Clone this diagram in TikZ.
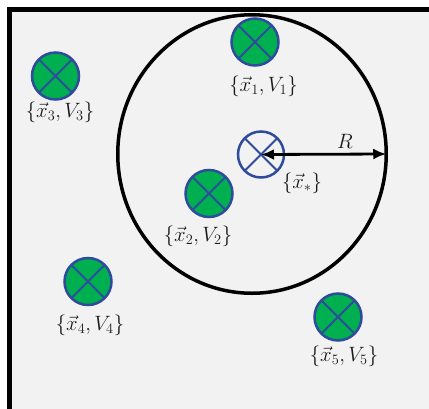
\documentclass[tikz,border=0pt]{standalone}
\usetikzlibrary{arrows.meta,shapes.geometric}
\definecolor{bg}{HTML}{F2F2F2}
\definecolor{mkgreen}{HTML}{00B050}
\definecolor{mkblue}{HTML}{2F4B9B}
\definecolor{txt}{HTML}{1A1A1A}
\begin{document}
\begin{tikzpicture}[x=1pt,y=-1pt,
  site/.style={circle, draw=mkblue, fill=mkgreen, line width=2.5pt, minimum size=47pt, inner sep=0pt, outer sep=0pt},
  query/.style={circle, draw=mkblue, line width=2.5pt, minimum size=46pt, inner sep=0pt, outer sep=0pt},
  lbl/.style={text=txt, font=\fontsize{21}{24}\selectfont, inner sep=0pt},
  crossline/.style={draw=mkblue, line width=2pt}]
\useasboundingbox (0,0) rectangle (429,408);
\clip (0,0) rectangle (429,408);
\fill[white] (0,0) rectangle (429,408);
\draw[line width=4.5pt, fill=bg] (9.5,9.5) rectangle (445,425);
\node[ellipse, draw, line width=3.5pt, minimum width=268.5pt, minimum height=278.5pt, inner sep=0pt, outer sep=0pt] (big) at (252,154) {};
\node[site] (s1) at (255,42) {};
\node[site] (s2) at (209,193.5) {};
\node[site] (s3) at (55.5,76) {};
\node[site] (s4) at (88,281.5) {};
\node[site] (s5) at (338,317) {};
\node[query] (xs) at (261,154.5) {};
\foreach \n in {s1,s2,s3,s4,s5,xs}{
  \draw[crossline] (\n.north east) -- (\n.south west) (\n.north west) -- (\n.south east);
}
\draw[{Latex[length=13pt,width=11pt]}-{Latex[length=13pt,width=11pt]}, line width=2.8pt] (xs.center) -- (big.east);
\node[lbl] (l1) at (263.5,86) {$\{\vec{x}_1, V_1\}$};
\node[lbl] (l2) at (198,236) {$\{\vec{x}_2, V_2\}$};
\node[lbl] (l3) at (60,112) {$\{\vec{x}_3, V_3\}$};
\node[lbl] (l4) at (90,325) {$\{\vec{x}_4, V_4\}$};
\node[lbl] (l5) at (344,356) {$\{\vec{x}_5, V_5\}$};
\node[lbl] (ls) at (302,183) {$\{\vec{x}_*\}$};
\node[lbl] (lR) at (345,141) {$R$};
\end{tikzpicture}
\end{document}
